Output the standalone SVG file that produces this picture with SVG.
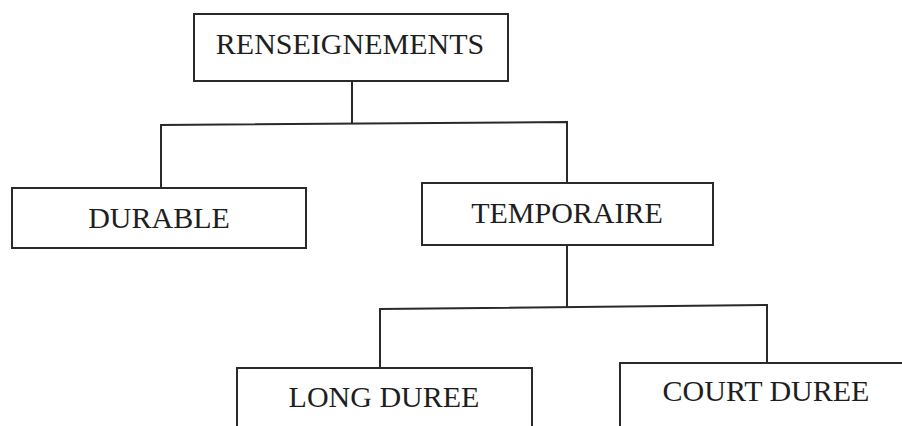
<svg xmlns="http://www.w3.org/2000/svg" width="902" height="426" viewBox="0 0 902 426">
  <style>
    .box { fill: #ffffff; stroke: #2a2a2a; stroke-width: 2; }
    .lbl { font-family: "Liberation Serif", "Times New Roman", serif; font-size: 30px; fill: #1e1e1e; text-anchor: middle; }
    .wire { fill: none; stroke: #2a2a2a; stroke-width: 2; }
  </style>
  <rect width="902" height="426" fill="#ffffff"/>

  <!-- tree connectors -->
  <g id="connectors">
    <path class="wire" d="M352,81 V123"/>
    <path class="wire" d="M161,188 V125 L567,122 V183"/>
    <path class="wire" d="M567,245 V307"/>
    <path class="wire" d="M380,368 V309 L767,305 V363"/>
  </g>

  <g id="renseignements">
    <rect class="box" x="194" y="14" width="314" height="67"/>
    <text class="lbl" x="350" y="54">RENSEIGNEMENTS</text>
  </g>

  <g id="durable">
    <rect class="box" x="12" y="188" width="294" height="60"/>
    <text class="lbl" x="159" y="228">DURABLE</text>
  </g>

  <g id="temporaire">
    <rect class="box" x="422" y="183" width="291" height="62"/>
    <text class="lbl" x="567" y="223">TEMPORAIRE</text>
  </g>

  <g id="long-duree">
    <rect class="box" x="237" y="368" width="295" height="70"/>
    <text class="lbl" x="384" y="407">LONG DUREE</text>
  </g>

  <g id="court-duree">
    <rect class="box" x="620" y="363" width="290" height="75"/>
    <text class="lbl" x="766" y="401">COURT DUREE</text>
  </g>
</svg>
